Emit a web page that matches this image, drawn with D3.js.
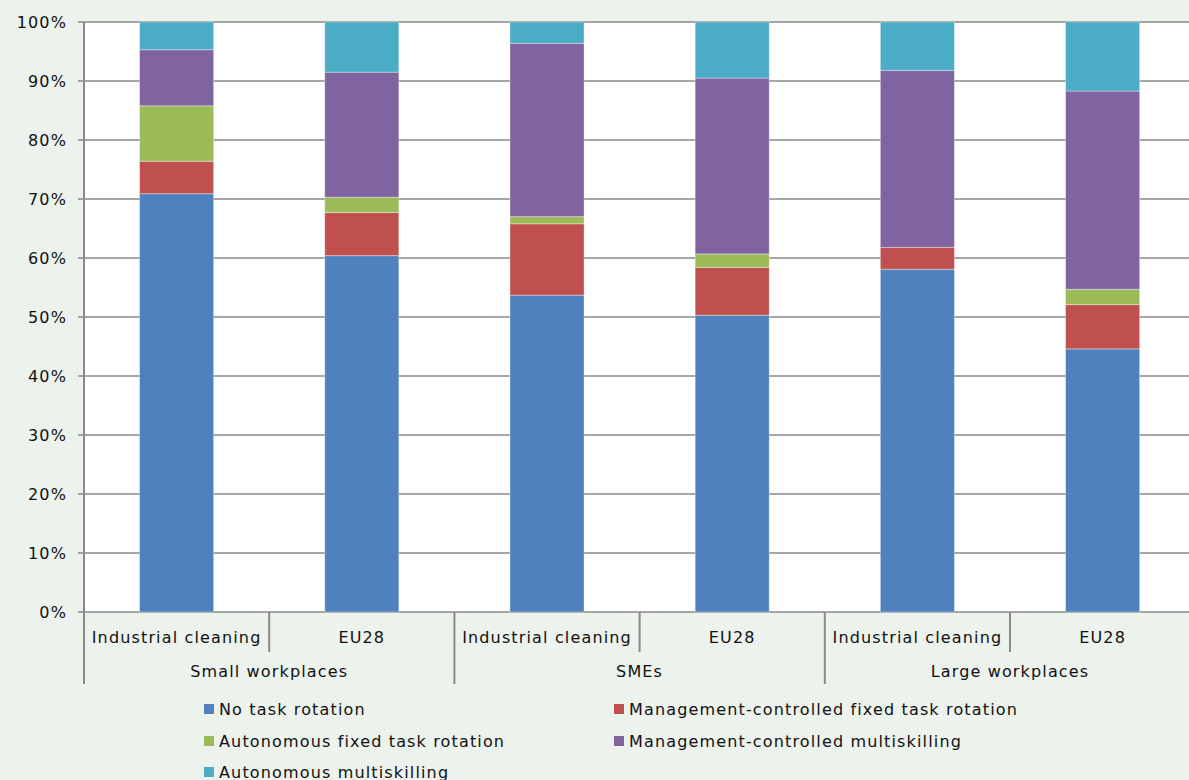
<!DOCTYPE html>
<html><head><meta charset="utf-8">
<script src="https://cdn.jsdelivr.net/npm/d3@7"></script>
<style>
html,body{margin:0;padding:0;background:#ecf2ec;}
svg{display:block;}
text{font-family:"DejaVu Sans",Verdana,sans-serif;fill:#111;letter-spacing:1.15px;}
</style></head>
<body>
<script>
const groups = ["Small workplaces","SMEs","Large workplaces"];
const subcats = ["Industrial cleaning","EU28"];
const series = ["No task rotation","Management-controlled fixed task rotation","Autonomous fixed task rotation","Management-controlled multiskilling","Autonomous multiskilling"];
const colors = ["#4f81bd","#c0504d","#9bbb59","#8064a2","#4bacc6"];
// values per bar, order: Small IC, Small EU28, SMEs IC, SMEs EU28, Large IC, Large EU28
const noRotation      = [70.9, 60.4, 53.7, 50.3, 58.1, 44.6];
const mgmtFixed       = [5.5, 7.3, 12.1, 8.1, 3.7, 7.5];
const autoFixed       = [9.4, 2.6, 1.2, 2.3, 0.0, 2.6];
const mgmtMulti       = [9.5, 21.2, 29.4, 29.8, 30.0, 33.6];
const autoMulti       = [4.7, 8.5, 3.6, 9.5, 8.2, 11.7];
const yTicks = [0,10,20,30,40,50,60,70,80,90,100];

const W = 1189, H = 780;
const mLeft = 84, mTop = 22, mBottom = 612;
const band = 185.2;
const mRight = mLeft + 6*band;

const bars = [];
groups.forEach((g,gi)=>subcats.forEach((s,si)=>bars.push({key:gi+"-"+si,group:g,sub:s})));
const data = bars.map((b,i)=>({key:b.key,s0:noRotation[i],s1:mgmtFixed[i],s2:autoFixed[i],s3:mgmtMulti[i],s4:autoMulti[i]}));

const svg = d3.select("body").append("svg").attr("width",W).attr("height",H);
const x = d3.scaleBand().domain(bars.map(b=>b.key)).range([mLeft,mRight]).paddingInner(0.6).paddingOuter(0.3);
const y = d3.scaleLinear().domain([0,100]).range([mBottom,mTop]);

svg.append("rect").attr("x",mLeft).attr("y",mTop).attr("width",W-mLeft).attr("height",mBottom-mTop).attr("fill","#fff");

// gridlines
svg.append("g").selectAll("line").data(yTicks).join("line")
  .attr("x1",mLeft-6).attr("x2",W).attr("y1",d=>y(d)).attr("y2",d=>y(d))
  .attr("stroke","#8a8a8a").attr("stroke-width",1.6);

// y axis labels
const yAxis = d3.axisLeft(y).tickValues(yTicks).tickFormat(d=>d+"%").tickSize(0).tickPadding(17);
const ya = svg.append("g").attr("transform",`translate(${mLeft},0)`).call(yAxis);
ya.select(".domain").remove();
ya.selectAll("text").attr("font-size",16).style("font-family","DejaVu Sans, Verdana, sans-serif").attr("fill","#111");

// stacked bars
const keys = ["s0","s1","s2","s3","s4"];
const stack = d3.stack().keys(keys)(data);
svg.append("g").selectAll("g").data(stack).join("g").attr("fill",(d,i)=>colors[i])
  .selectAll("rect").data(d=>d).join("rect")
  .attr("x",d=>x(d.data.key)).attr("width",x.bandwidth())
  .attr("y",d=>y(d[1])).attr("height",d=>Math.max(0,y(d[0])-y(d[1])))
  .attr("stroke",d=>(d[1]-d[0])>0?"rgba(255,255,255,0.35)":"none").attr("stroke-width",1);

// y axis line
svg.append("line").attr("x1",mLeft).attr("x2",mLeft).attr("y1",mTop).attr("y2",mBottom).attr("stroke","#8a8a8a").attr("stroke-width",2);

// category axis separators
const step = x.step();
const x0 = x.range()[0];
const sep = svg.append("g").attr("stroke","#8a8a8a").attr("stroke-width",2);
for(let i=0;i<=6;i++){
  const xx = x0 + i*step;
  sep.append("line").attr("x1",xx).attr("x2",xx).attr("y1",mBottom).attr("y2", i%2===0?684:652);
}
svg.append("g").selectAll("text").data(bars).join("text")
  .attr("x",d=>x(d.key)+x.bandwidth()/2).attr("y",643).attr("text-anchor","middle")
  .attr("font-size",16).text(d=>d.sub);
svg.append("g").selectAll("text").data(groups).join("text")
  .attr("x",(d,i)=>x0 + (2*i+1)*step).attr("y",677).attr("text-anchor","middle")
  .attr("font-size",16).text(d=>d);

// legend
const legPos = [[204,709],[614,709],[204,741],[614,741],[204,772]];
const leg = svg.append("g").selectAll("g").data(series).join("g")
  .attr("transform",(d,i)=>`translate(${legPos[i][0]},${legPos[i][1]})`);
leg.append("rect").attr("x",0).attr("y",-5).attr("width",10).attr("height",10).attr("fill",(d,i)=>colors[i]);
leg.append("text").attr("x",15).attr("y",6).attr("font-size",16).text(d=>d);
</script>
</body></html>
